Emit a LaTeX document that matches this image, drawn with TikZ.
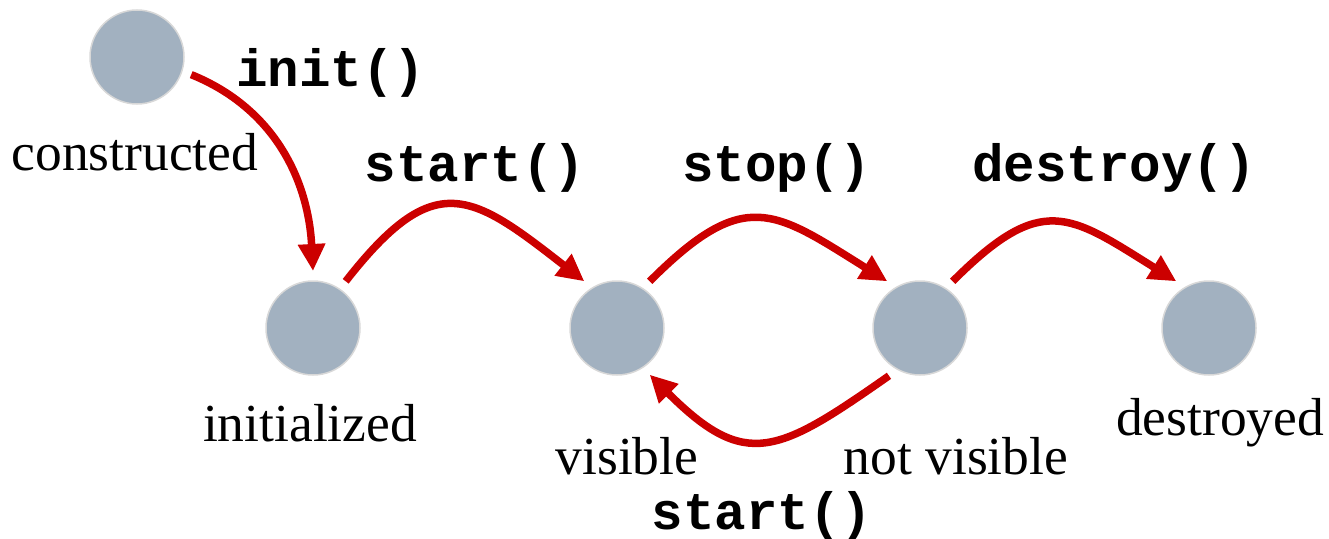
\documentclass[tikz,border=0pt]{standalone}
\usepackage{fontspec}
\setmainfont{Liberation Serif}
\newfontfamily\codefont{Liberation Mono}
\usetikzlibrary{arrows.meta}
\definecolor{statefill}{HTML}{A2B1C0}
\definecolor{stateline}{HTML}{D8D8D8}
\definecolor{arrowred}{HTML}{CC0000}
\tikzset{
  state/.style={circle, fill=statefill, draw=stateline, line width=1.5pt, minimum size=94pt, inner sep=0pt, outer sep=10pt},
  statelabel/.style={font=\fontsize{53.5}{60}\selectfont, inner sep=0pt},
  call/.style={font=\codefont\bfseries\fontsize{52.5}{60}\selectfont, inner sep=0pt},
  trans/.style={draw=arrowred, line width=7.5pt, -{Triangle[length=27pt,width=26pt]}}
}
\begin{document}
\begin{tikzpicture}[x=1pt,y=-1pt]
\useasboundingbox (0,0) rectangle (1329,538);
\node[state] (cons) at (137,57) {};
\node[state] (init) at (313,328) {};
\node[state] (vis) at (617,328) {};
\node[state] (nvis) at (920,328) {};
\node[state] (dest) at (1209,328) {};

\node[statelabel] (lcons) at (135,152) {constructed};
\node[statelabel] (linit) at (310,423) {initialized};
\node[statelabel] (lvis) at (627,456) {visible};
\node[statelabel] (lnvis) at (956,456) {not visible};
\node[statelabel] (ldest) at (1220,423) {destroyed};

\node[call] (cinit) at (331,73) {init()};
\node[call] (cstart) at (475,168) {start()};
\node[call] (cstop) at (777,168) {stop()};
\node[call] (cdest) at (1114,168) {destroy()};
\node[call] (cstart2) at (762,516) {start()};

\draw[trans] (cons.-18) to[out=-22,in=93] (init.90);
\draw[trans] (init.55) to[out=52,in=142,looseness=1.55] (vis.125);
\draw[trans] (vis.55) to[out=45,in=148,looseness=1.45] (nvis.125);
\draw[trans] (nvis.55) to[out=45,in=148,looseness=1.45] (dest.125);
\draw[trans] (nvis.237) to[out=215,in=-45,looseness=1.45] (vis.305);
\end{tikzpicture}
\end{document}
